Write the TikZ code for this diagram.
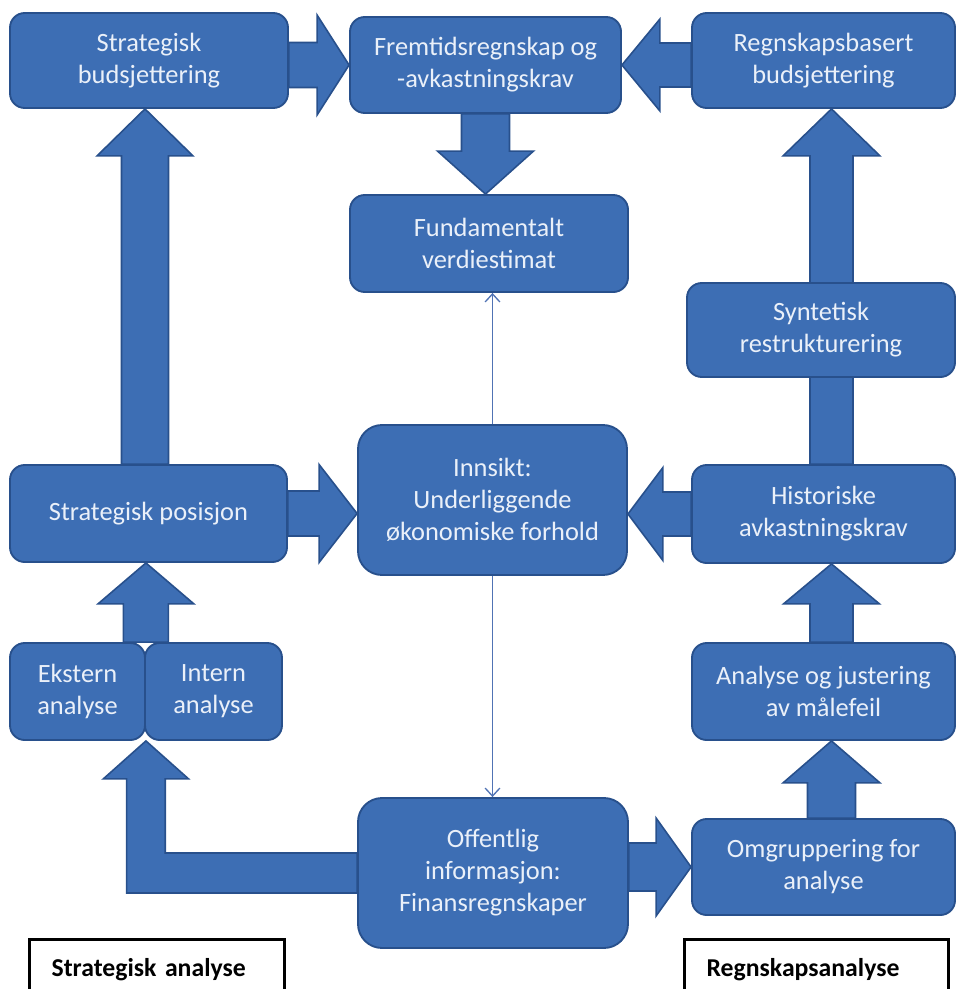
\documentclass[tikz,border=0pt]{standalone}
\usepackage{fontspec}
\setmainfont{Carlito}
\usetikzlibrary{calc,arrows.meta}
\definecolor{boxblue}{RGB}{61,110,180}
\definecolor{boxedge}{RGB}{40,80,140}
\definecolor{boxtext}{RGB}{234,240,249}
\definecolor{thinline}{RGB}{80,115,180}
\pgfdeclarelayer{bg}
\pgfsetlayers{bg,main}
% block arrow: #1 start, #2 tip, #3 shaft half-width (px), #4 head half-width (px), #5 head length (px)
\newcommand\blockarr[5]{%
 \draw[barrow] let \p1=(#1), \p2=(#2),
   \n1={veclen(\x2-\x1,\y2-\y1)}, \n2={(\x2-\x1)/\n1}, \n3={(\y2-\y1)/\n1} in
 ({\x1-(\n3)*#3*0.75pt},{\y1+(\n2)*#3*0.75pt})
 -- ({\x2-(\n2)*#5*0.75pt-(\n3)*#3*0.75pt},{\y2-(\n3)*#5*0.75pt+(\n2)*#3*0.75pt})
 -- ({\x2-(\n2)*#5*0.75pt-(\n3)*#4*0.75pt},{\y2-(\n3)*#5*0.75pt+(\n2)*#4*0.75pt})
 -- (\p2)
 -- ({\x2-(\n2)*#5*0.75pt+(\n3)*#4*0.75pt},{\y2-(\n3)*#5*0.75pt-(\n2)*#4*0.75pt})
 -- ({\x2-(\n2)*#5*0.75pt+(\n3)*#3*0.75pt},{\y2-(\n3)*#5*0.75pt-(\n2)*#3*0.75pt})
 -- ({\x1+(\n3)*#3*0.75pt},{\y1-(\n2)*#3*0.75pt})
 -- cycle;}
\begin{document}
\begin{tikzpicture}[x=0.75pt,y=-0.75pt,
  box/.style={draw=boxedge, fill=boxblue, line width=1.4pt, rounded corners=11pt,
    text=boxtext, align=center, font=\fontsize{19.8}{24}\selectfont, inner sep=2pt},
  bigbox/.style={box, rounded corners=18pt},
  barrow/.style={draw=boxedge, fill=boxblue, line width=1.2pt, line join=miter},
  thinarrow/.style={draw=thinline, line width=1pt, -{Straight Barb[length=6pt,width=11pt]}},
  legend/.style={draw=black, fill=white, line width=2.4pt, anchor=north west,
    align=left, inner xsep=16.5pt, text=black,
    font=\fontsize{19.3}{23.5}\selectfont\bfseries}]
\useasboundingbox (0,0) rectangle (957,989);
\clip (0,0) rectangle (957,989);

% boxes
\node[box, minimum width=208.5pt, minimum height=71.25pt] (sb) at (149,60.5) {Strategisk\\budsjettering};
\node[box, minimum width=203.25pt, minimum height=72pt] (fr) at (485.5,65) {Fremtidsregnskap og\\-avkastningskrav};
\node[box, minimum width=197.25pt, minimum height=71.25pt] (rb) at (823.5,60.5) {Regnskapsbasert\\budsjettering};
\node[box, minimum width=208.5pt, minimum height=72.75pt] (fv) at (489,243.5) {Fundamentalt\\verdiestimat};
\node[box, minimum width=201pt, minimum height=70.5pt] (sr) at (821,330) {Syntetisk\\restrukturering};
\node[box, minimum width=207.75pt, minimum height=72.75pt] (sp) at (148.5,513.5) {Strategisk posisjon};
\node[bigbox, minimum width=201.75pt, minimum height=112.5pt] (in) at (492.5,500) {Innsikt:\\Underliggende\\økonomiske forhold};
\node[box, minimum width=197.25pt, minimum height=73.5pt] (ha) at (823.5,514) {Historiske\\avkastningskrav};
\node[box, minimum width=101.25pt, minimum height=72.75pt] (ek) at (77.5,691.5) {Ekstern\\analyse};
\node[box, minimum width=102.75pt, minimum height=72.75pt] (it) at (213.5,691.5) {Intern\\analyse};
\node[box, minimum width=197.25pt, minimum height=72.75pt] (aj) at (823.5,691.5) {Analyse og justering\\av målefeil};
\node[bigbox, minimum width=202.5pt, minimum height=112.5pt] (of) at (493,873) {Offentlig\\informasjon:\\Finansregnskaper};
\node[box, minimum width=197.25pt, minimum height=72pt] (om) at (823.5,867) {Omgruppering for\\analyse};

% legends
\node[legend, minimum width=191.25pt, minimum height=45pt, text width=158.25pt] (lg1) at (28,938) {Strategisk analyse};
\node[legend, minimum width=198pt, minimum height=45pt, text width=165pt] (lg2) at (683,938) {Regnskapsanalyse};

% block arrows behind boxes
\begin{pgfonlayer}{bg}
\blockarr{sb.east |- fr.west}{fr.west}{22.5}{50}{32}
\blockarr{rb.west |- fr.east}{fr.east}{22}{46}{38}
\blockarr{fr.south}{fr.south |- fv.north}{24}{48}{43}
\blockarr{$(sp.north)+(-3.5,0)$}{$(sp.north |- sb.south)+(-3.5,0)$}{23.5}{48}{47}
\blockarr{ek.north east}{ek.north east |- sp.south}{22.5}{48}{41}
\blockarr{sp.east}{in.west |- sp.east}{22.5}{49}{38}
\blockarr{ha.west}{in.east |- ha.west}{22}{46.5}{35}
\blockarr{$(ha.north)+(8,0)$}{$(ha.north |- rb.south)+(8,0)$}{21.5}{48.5}{47}
\blockarr{$(aj.north)+(8,0)$}{$(aj.north |- ha.south)+(8,0)$}{21.5}{48}{40}
\blockarr{$(om.north)+(8,0)$}{$(om.north |- aj.south)+(8,0)$}{24}{48.5}{42}
\blockarr{of.east |- om.west}{om.west}{24}{49}{35}
% L-shaped arrow from Offentlig to Ekstern/Intern
\draw[barrow] let \p1=(ek.south east), \p2=(of.west) in
  ({\x2},{\y2+15pt}) -- ({\x1+14.5pt},{\y2+15pt}) -- ({\x1+14.5pt},{\y1-28.5pt})
  -- ({\x1+32pt},{\y1-28.5pt}) -- (\p1) -- ({\x1-32pt},{\y1-28.5pt})
  -- ({\x1-14.5pt},{\y1-28.5pt}) -- ({\x1-14.5pt},{\y2-15pt}) -- ({\x2},{\y2-15pt}) -- cycle;
\end{pgfonlayer}

% thin connectors
\draw[thinarrow] (in.north) -- (in.north |- fv.south);
\draw[thinarrow] (in.south) -- (in.south |- of.north);
\end{tikzpicture}
\end{document}
